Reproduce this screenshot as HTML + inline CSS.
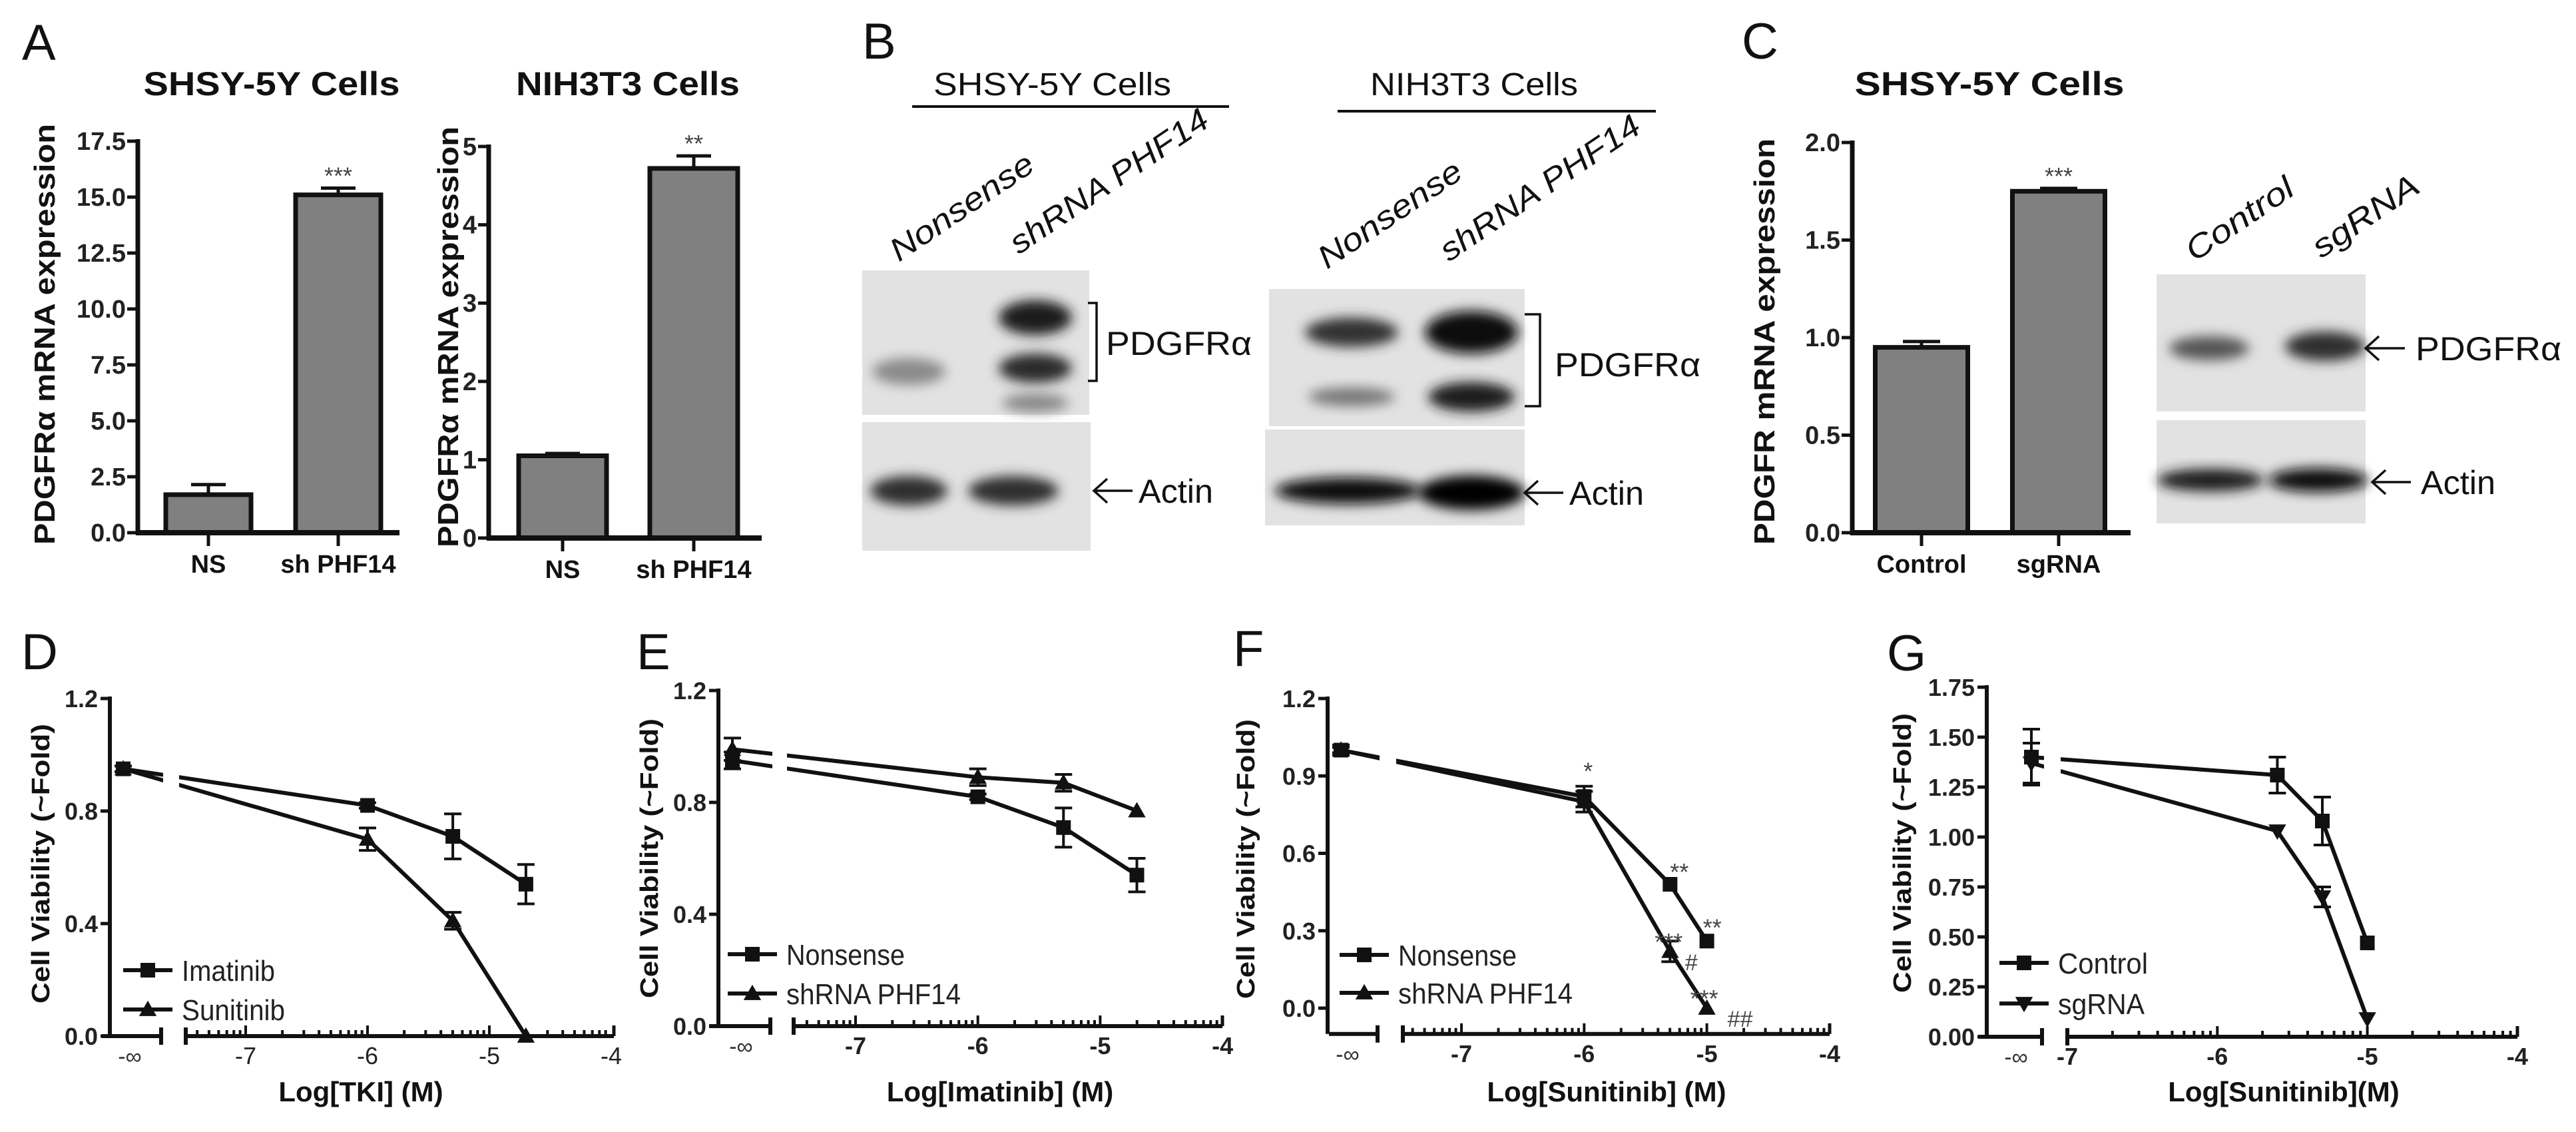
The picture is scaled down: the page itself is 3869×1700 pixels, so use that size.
<!DOCTYPE html>
<html><head><meta charset="utf-8"><style>
html,body{margin:0;padding:0;background:#fff;}
svg{display:block;font-family:"Liberation Sans",Arial,sans-serif;}
</style></head><body>
<svg id="fig" xmlns="http://www.w3.org/2000/svg" width="3869" height="1700" viewBox="0 0 3869 1700">
<defs>
<filter id="blur" x="-50%" y="-50%" width="200%" height="200%"><feGaussianBlur stdDeviation="9"/></filter>
</defs>
<rect x="0" y="0" width="3869" height="1700" fill="#fff"/>
</svg>
<script>
// ---------- DATA ----------
const a1Categories = ["NS", "sh PHF14"];
const a1Values = [1.7, 15.1];
const a1Errors = [0.45, 0.3];
const a1Stars = ["", "***"];
const a1Ticks = [0, 2.5, 5, 7.5, 10, 12.5, 15, 17.5];
const a1TickLabels = ["0.0", "2.5", "5.0", "7.5", "10.0", "12.5", "15.0", "17.5"];
const a2Categories = ["NS", "sh PHF14"];
const a2Values = [1.05, 4.72];
const a2Errors = [0.03, 0.16];
const a2Stars = ["", "**"];
const a2Ticks = [0, 1, 2, 3, 4, 5];
const a2TickLabels = ["0", "1", "2", "3", "4", "5"];
const cCategories = ["Control", "sgRNA"];
const cValues = [0.95, 1.75];
const cErrors = [0.03, 0.015];
const cStars = ["", "***"];
const cTicks = [0, 0.5, 1, 1.5, 2];
const cTickLabels = ["0.0", "0.5", "1.0", "1.5", "2.0"];

const dDoses = [null, -6, -5.3, -4.7];
const dImatinib = [0.95, 0.82, 0.71, 0.54];
const dImatinibErr = [0.01, 0.01, 0.08, 0.07];
const dSunitinib = [0.95, 0.70, 0.41, 0.0];
const dSunitinibErr = [0.01, 0.04, 0.03, 0.0];
const dTicks = [0, 0.4, 0.8, 1.2];
const dTickLabels = ["0.0", "0.4", "0.8", "1.2"];
const eDoses = [null, -6, -5.3, -4.7];
const eNonsense = [0.95, 0.82, 0.71, 0.54];
const eNonsenseErr = [0.03, 0.01, 0.07, 0.06];
const eShrna = [0.99, 0.89, 0.87, 0.77];
const eShrnaErr = [0.04, 0.03, 0.03, 0.0];
const eTicks = [0, 0.4, 0.8, 1.2];
const eTickLabels = ["0.0", "0.4", "0.8", "1.2"];
const fDoses = [null, -6, -5.3, -5];
const fNonsense = [1.0, 0.82, 0.48, 0.26];
const fNonsenseErr = [0.02, 0.04, 0.0, 0.0];
const fShrna = [1.0, 0.80, 0.22, 0.0];
const fShrnaErr = [0.01, 0.04, 0.04, 0.0];
const fTicks = [0, 0.3, 0.6, 0.9, 1.2];
const fTickLabels = ["0.0", "0.3", "0.6", "0.9", "1.2"];
const fAnnotLabels = ["*", "**", "**", "***", "#", "***", "##"];
const gDoses = [null, -5.6, -5.3, -5];
const gControl = [1.40, 1.31, 1.08, 0.47];
const gControlErr = [0.14, 0.09, 0.12, 0.0];
const gSgrna = [1.37, 1.03, 0.70, 0.09];
const gSgrnaErr = [0.10, 0.0, 0.05, 0.0];
const gTicks = [0, 0.25, 0.5, 0.75, 1.0, 1.25, 1.5, 1.75];
const gTickLabels = ["0.00", "0.25", "0.50", "0.75", "1.00", "1.25", "1.50", "1.75"];
const xDecades = [-7, -6, -5, -4];
const xDecadeLabels = ["-7", "-6", "-5", "-4"];

// ---------- HELPERS ----------
const NS = 'http://www.w3.org/2000/svg';
const svg = document.getElementById('fig');
function mk(tag, attrs, parent) {
  const e = document.createElementNS(NS, tag);
  for (const k in attrs) e.setAttribute(k, attrs[k]);
  (parent || svg).appendChild(e);
  return e;
}
function tx(str, attrs, parent) {
  const e = mk('text', attrs, parent);
  e.textContent = str;
  return e;
}
function grp(name) {
  const g = mk('g', {});
  
  
  return g;
}
const K = '#111';

const letterPos = [["A", 33, 90], ["B", 1295, 88], ["C", 2616, 88], ["D", 32, 1005], ["E", 956, 1005], ["F", 1852, 1000], ["G", 2834, 1007]];
letterPos.forEach(function (p) {
  const t = tx(p[0], {x: p[1], y: p[2], 'font-size': 76, fill: K});
  
  
});

function barChart(name, cfg, cats, vals, errs, stars, ticks, tickLabels) {
  const g = grp(name);
  const yOf = v => cfg.y0 - v / cfg.vmax * (cfg.y0 - cfg.y1);
  const title = tx(cfg.title, {x: cfg.titleX, y: 143, 'font-size': 50, 'font-weight': 'bold', 'text-anchor': 'middle', fill: K, textLength: cfg.titleW, lengthAdjust: 'spacingAndGlyphs'}, g);
  
  
  const yl = tx(cfg.ylabel, {x: 0, y: 0, 'font-size': 44, 'font-weight': 'bold', 'text-anchor': 'middle', fill: K, textLength: cfg.ylabelLen, lengthAdjust: 'spacingAndGlyphs', transform: 'translate(' + cfg.ylabelX + ',' + cfg.ylabelY + ') rotate(-90)'}, g);
  
  
  ticks.forEach(function (v, i) {
    const y = yOf(v);
    const tk = mk('line', {x1: cfg.axisX - 16, x2: cfg.axisX, y1: y, y2: y, stroke: K, 'stroke-width': 5}, g);
    
    
    const tl = tx(tickLabels[i], {x: cfg.axisX - 18, y: y + 13, 'font-size': 38, 'font-weight': 'bold', 'text-anchor': 'end', fill: '#222'}, g);
    
    
  });
  cats.forEach(function (c, i) {
    const cx = cfg.centers[i];
    const yv = yOf(vals[i]);
    const ye = yOf(vals[i] + errs[i]);
    const eb = mk('line', {x1: cx, x2: cx, y1: yv, y2: ye, stroke: K, 'stroke-width': 5}, g);
    
    
    const cap = mk('line', {x1: cx - cfg.cap, x2: cx + cfg.cap, y1: ye, y2: ye, stroke: K, 'stroke-width': 5}, g);
    
    
    const bar = mk('rect', {x: cx - cfg.w / 2, y: yv, width: cfg.w, height: cfg.y0 - yv, fill: '#808080', stroke: K, 'stroke-width': 7}, g);
    
    
    if (stars[i]) {
      const st = tx(stars[i], {x: cx, y: ye - 6, 'font-size': 36, 'text-anchor': 'middle', fill: '#444'}, g);
      
      
    }
    const ct = mk('line', {x1: cx, x2: cx, y1: cfg.y0, y2: cfg.y0 + 20, stroke: K, 'stroke-width': 5}, g);
    
    
    const cl = tx(c, {x: cx, y: cfg.y0 + 60, 'font-size': 38, 'font-weight': 'bold', 'text-anchor': 'middle', fill: K}, g);
    
    
  });
  const ya = mk('line', {x1: cfg.axisX, x2: cfg.axisX, y1: cfg.y1 - 3, y2: cfg.y0 + 3, stroke: K, 'stroke-width': 7}, g);
  
  
  const xa = mk('line', {x1: cfg.axisX - 3, x2: cfg.axisEnd, y1: cfg.y0, y2: cfg.y0, stroke: K, 'stroke-width': 8}, g);
  
  
}

barChart('bar-chart-a-shsy5y', {title: 'SHSY-5Y Cells', titleX: 408, titleW: 385, ylabel: 'PDGFRα mRNA expression', ylabelX: 82, ylabelY: 502, ylabelLen: 632, axisX: 207, y0: 800, y1: 212, vmax: 17.5, centers: [313, 508], w: 128, cap: 26, axisEnd: 600}, a1Categories, a1Values, a1Errors, a1Stars, a1Ticks, a1TickLabels);
barChart('bar-chart-a-nih3t3', {title: 'NIH3T3 Cells', titleX: 943, titleW: 336, ylabel: 'PDGFRα mRNA expression', ylabelX: 688, ylabelY: 506, ylabelLen: 632, axisX: 734, y0: 808, y1: 220, vmax: 5, centers: [845, 1042], w: 132, cap: 26, axisEnd: 1144}, a2Categories, a2Values, a2Errors, a2Stars, a2Ticks, a2TickLabels);
barChart('bar-chart-c', {title: 'SHSY-5Y Cells', titleX: 2988, titleW: 405, ylabel: 'PDGFR mRNA expression', ylabelX: 2665, ylabelY: 513, ylabelLen: 610, axisX: 2782, y0: 800, y1: 214, vmax: 2, centers: [2886, 3092], w: 139, cap: 28, axisEnd: 3200}, cCategories, cValues, cErrors, cStars, cTicks, cTickLabels);

function blot(name, x, y, w, h, bands) {
  const g = grp(name);
  const bg = mk('rect', {x: x, y: y, width: w, height: h, fill: '#e2e2e2'}, g);
  
  
  bands.forEach(function (b) {
    const e = mk('ellipse', {cx: b[0], cy: b[1], rx: b[2], ry: b[3], fill: b[4], filter: 'url(#blur)'}, g);
    
    
  });
}
blot('blot-b-shsy5y-pdgfr', 1295, 406, 341, 217, [[1365, 558, 55, 20, '#8a8a8a'], [1555, 477, 55, 26, '#1a1a1a'], [1555, 553, 55, 22, '#2a2a2a'], [1555, 605, 50, 14, '#888']]);
blot('blot-b-shsy5y-actin', 1295, 634, 343, 193, [[1365, 737, 58, 22, '#2e2e2e'], [1522, 737, 68, 22, '#2e2e2e']]);
blot('blot-b-nih3t3-pdgfr', 1906, 434, 384, 206, [[2030, 499, 70, 22, '#333'], [2030, 596, 65, 14, '#777'], [2210, 499, 70, 32, '#0e0e0e'], [2210, 596, 65, 22, '#1c1c1c']]);
blot('blot-b-nih3t3-actin', 1900, 645, 390, 144, [[2025, 737, 110, 20, '#0e0e0e'], [2210, 740, 80, 26, '#000']]);
blot('blot-c-pdgfr', 3239, 412, 314, 206, [[3318, 523, 60, 18, '#555'], [3492, 520, 60, 22, '#2e2e2e']]);
blot('blot-c-actin', 3239, 631, 314, 155, [[3320, 721, 80, 17, '#1e1e1e'], [3482, 721, 75, 18, '#111']]);

function plainText(name, str, attrs) {
  const t = tx(str, attrs);
  
  
  return t;
}
function hline(name, x1, x2, y, w) {
  const l = mk('line', {x1: x1, x2: x2, y1: y, y2: y, stroke: K, 'stroke-width': w});
  
  
}
function arrow(name, x1, x2, y) {
  const p = mk('path', {d: 'M' + x2 + ' ' + y + ' L' + x1 + ' ' + y + ' M' + (x1 + 20) + ' ' + (y - 18) + ' L' + x1 + ' ' + y + ' L' + (x1 + 20) + ' ' + (y + 18), stroke: K, 'stroke-width': 3.5, fill: 'none'});
  
  
}
function bracket(name, x1, x2, y1, y2) {
  const p = mk('path', {d: 'M' + x1 + ' ' + y1 + ' L' + x2 + ' ' + y1 + ' L' + x2 + ' ' + y2 + ' L' + x1 + ' ' + y2, stroke: K, 'stroke-width': 3.5, fill: 'none'});
  
  
}
function lane(name, str, x, y, len) {
  const t = tx(str, {x: 0, y: 0, 'font-size': 48, 'font-style': 'italic', fill: K, textLength: len, lengthAdjust: 'spacingAndGlyphs', transform: 'translate(' + x + ',' + y + ') rotate(-34)'});
  
  
}
plainText('blot-title-shsy5y', 'SHSY-5Y Cells', {x: 1402, y: 143, 'font-size': 48, fill: K, textLength: 357, lengthAdjust: 'spacingAndGlyphs'});
hline('blot-title-underline', 1370, 1846, 160, 4);
plainText('blot-title-nih3t3', 'NIH3T3 Cells', {x: 2058, y: 143, 'font-size': 48, fill: K, textLength: 312, lengthAdjust: 'spacingAndGlyphs'});
hline('blot-title-underline', 2009, 2487, 167, 4);
lane('lane-label-nonsense', 'Nonsense', 1350, 394, 250);
lane('lane-label-shrna', 'shRNA PHF14', 1530, 383, 349);
lane('lane-label-nonsense', 'Nonsense', 1993, 405, 250);
lane('lane-label-shrna', 'shRNA PHF14', 2176, 394, 352);
lane('lane-label-control', 'Control', 3296, 394, 185);
lane('lane-label-sgrna', 'sgRNA', 3486, 389, 183);
bracket('band-bracket', 1634, 1647, 455, 572);
plainText('band-label-pdgfra', 'PDGFRα', {x: 1661, y: 533, 'font-size': 50, fill: K, textLength: 219, lengthAdjust: 'spacingAndGlyphs'});
arrow('band-arrow', 1643, 1701, 737);
plainText('band-label-actin', 'Actin', {x: 1710, y: 755, 'font-size': 50, fill: K, textLength: 112, lengthAdjust: 'spacingAndGlyphs'});
bracket('band-bracket', 2290, 2313, 472, 610);
plainText('band-label-pdgfra', 'PDGFRα', {x: 2335, y: 565, 'font-size': 50, fill: K, textLength: 219, lengthAdjust: 'spacingAndGlyphs'});
arrow('band-arrow', 2290, 2348, 740);
plainText('band-label-actin', 'Actin', {x: 2357, y: 758, 'font-size': 50, fill: K, textLength: 112, lengthAdjust: 'spacingAndGlyphs'});
arrow('band-arrow', 3553, 3612, 523);
plainText('band-label-pdgfra', 'PDGFRα', {x: 3628, y: 541, 'font-size': 50, fill: K, textLength: 219, lengthAdjust: 'spacingAndGlyphs'});
arrow('band-arrow', 3563, 3621, 724);
plainText('band-label-actin', 'Actin', {x: 3636, y: 742, 'font-size': 50, fill: K, textLength: 112, lengthAdjust: 'spacingAndGlyphs'});

function marker(g, type, x, y, s) {
  let m;
  if (type === 'square') m = mk('rect', {x: x - s / 2, y: y - s / 2, width: s, height: s, fill: K}, g);
  else if (type === 'up') m = mk('polygon', {points: (x) + ',' + (y - s * 0.6) + ' ' + (x - s * 0.6) + ',' + (y + s * 0.45) + ' ' + (x + s * 0.6) + ',' + (y + s * 0.45), fill: K}, g);
  else m = mk('polygon', {points: (x) + ',' + (y + s * 0.6) + ' ' + (x - s * 0.6) + ',' + (y - s * 0.45) + ' ' + (x + s * 0.6) + ',' + (y - s * 0.45), fill: K}, g);
  return m;
}
function doseChart(name, cfg, doses, series, ticks, tickLabels) {
  const g = grp(name);
  const yOf = v => cfg.y0 - v / cfg.vTop * (cfg.y0 - cfg.yTop);
  const xOf = d => d === null ? cfg.infX : cfg.xm7 + (d + 7) * cfg.ppd;
  const axisY = yOf(cfg.vMin);
  const yl = tx('Cell Viability (~Fold)', {x: 0, y: 0, 'font-size': 38, 'font-weight': 'bold', 'text-anchor': 'middle', fill: K, textLength: 420, lengthAdjust: 'spacingAndGlyphs', transform: 'translate(' + cfg.ylabelX + ',' + cfg.ylabelY + ') rotate(-90)'}, g);
  
  
  const xl = tx(cfg.xlabel, {x: cfg.xlabelX, y: cfg.xlabelY, 'font-size': 42, 'font-weight': 'bold', 'text-anchor': 'middle', fill: K}, g);
  
  
  ticks.forEach(function (v, i) {
    const y = yOf(v);
    const tk = mk('line', {x1: cfg.axisX - 14, x2: cfg.axisX, y1: y, y2: y, stroke: K, 'stroke-width': 5}, g);
    
    
    const tl = tx(tickLabels[i], {x: cfg.axisX - 18, y: y + 13, 'font-size': 36, 'font-weight': 'bold', 'text-anchor': 'end', fill: '#222'}, g);
    
    
  });
  series.forEach(function (s) {
    const pts = doses.map((d, i) => xOf(d) + ',' + yOf(s.vals[i])).join(' ');
    const pl = mk('polyline', {points: pts, fill: 'none', stroke: K, 'stroke-width': 6, 'stroke-linejoin': 'round'}, g);
    
    
  });
  const mask = mk('rect', {x: cfg.seg1[1] + 3, y: cfg.yTop - 30, width: cfg.seg2[0] - cfg.seg1[1] - 13, height: axisY - cfg.yTop + 10, fill: '#fff'}, g);
  
  
  series.forEach(function (s) {
    doses.forEach(function (d, i) {
      const x = xOf(d), y = yOf(s.vals[i]);
      if (s.errs[i] > 0) {
        const y1 = yOf(s.vals[i] + s.errs[i]), y2 = yOf(s.vals[i] - s.errs[i]);
        const eb = mk('path', {d: 'M' + x + ' ' + y1 + ' L' + x + ' ' + y2 + ' M' + (x - 13) + ' ' + y1 + ' L' + (x + 13) + ' ' + y1 + ' M' + (x - 13) + ' ' + y2 + ' L' + (x + 13) + ' ' + y2, stroke: K, 'stroke-width': 4, fill: 'none'}, g);
        
        
      }
      const m = marker(g, s.marker, x, y, 22);
      
      
    });
  });
  const ya = mk('line', {x1: cfg.axisX, x2: cfg.axisX, y1: cfg.yTop - 3, y2: axisY, stroke: K, 'stroke-width': 6}, g);
  
  
  const s1 = mk('path', {d: 'M' + cfg.seg1[0] + ' ' + axisY + ' L' + cfg.seg1[1] + ' ' + axisY + ' M' + cfg.seg1[1] + ' ' + (axisY - 13) + ' L' + cfg.seg1[1] + ' ' + (axisY + 13), stroke: K, 'stroke-width': 6, fill: 'none'}, g);
  
  
  const s2 = mk('path', {d: 'M' + cfg.seg2[0] + ' ' + axisY + ' L' + cfg.seg2[1] + ' ' + axisY + ' M' + cfg.seg2[0] + ' ' + (axisY - 13) + ' L' + cfg.seg2[0] + ' ' + (axisY + 13), stroke: K, 'stroke-width': 6, fill: 'none'}, g);
  
  
  for (let dec = -8; dec < -4; dec++) {
    for (let k = 1; k <= 9; k++) {
      const lv = dec + Math.log10(k);
      const x = xOf(lv);
      if (x < cfg.seg2[0] + 4 || x > cfg.seg2[1] + 1) continue;
      const mt = mk('line', {x1: x, x2: x, y1: axisY, y2: axisY - (k === 1 ? 16 : 9), stroke: K, 'stroke-width': 4}, g);
      
      
    }
  }
  const lastT = mk('line', {x1: cfg.seg2[1], x2: cfg.seg2[1], y1: axisY, y2: axisY - 16, stroke: K, 'stroke-width': 5}, g);
  
  
  xDecades.forEach(function (d, i) {
    const t = tx(xDecadeLabels[i], {x: xOf(d), y: axisY + 42, 'font-size': 36, 'font-weight': cfg.boldX ? 'bold' : 'normal', 'text-anchor': 'middle', fill: '#222'}, g);
    
    
  });
  const inf = tx('-∞', {x: cfg.infLabelX, y: axisY + 42, 'font-size': 34, 'text-anchor': 'middle', fill: '#333'}, g);
  
  
  series.forEach(function (s, i) {
    const ly = cfg.legY[i];
    const ll = mk('line', {x1: cfg.legX, x2: cfg.legX + 74, y1: ly, y2: ly, stroke: K, 'stroke-width': 6}, g);
    
    
    const lm = marker(g, s.marker, cfg.legX + 37, ly, 22);
    
    
    const lt = tx(s.label, {x: cfg.legX + 88, y: ly + 16, 'font-size': 44, fill: '#222', textLength: s.labelW, lengthAdjust: 'spacingAndGlyphs'}, g);
    
    
  });
  return {g: g, xOf: xOf, yOf: yOf};
}

doseChart('line-chart-d', {y0: 1556, yTop: 1049, vTop: 1.2, vMin: 0, axisX: 165, xm7: 369, ppd: 183, infX: 185, infLabelX: 195, seg1: [153, 242], seg2: [279, 922], ylabelX: 74, ylabelY: 1297, xlabel: 'Log[TKI] (M)', xlabelX: 542, xlabelY: 1654, legX: 185, legY: [1457, 1516], boldX: false},
  dDoses, [{key: 'imatinib', label: 'Imatinib', labelW: 140, marker: 'square', vals: dImatinib, errs: dImatinibErr}, {key: 'sunitinib', label: 'Sunitinib', labelW: 155, marker: 'up', vals: dSunitinib, errs: dSunitinibErr}], dTicks, dTickLabels);

doseChart('line-chart-e', {y0: 1541, yTop: 1037, vTop: 1.2, vMin: 0, axisX: 1079, xm7: 1285, ppd: 183.7, infX: 1100, infLabelX: 1113, seg1: [1065, 1157], seg2: [1192, 1836], ylabelX: 988, ylabelY: 1289, xlabel: 'Log[Imatinib] (M)', xlabelX: 1502, xlabelY: 1654, legX: 1093, legY: [1433, 1492], boldX: true},
  eDoses, [{key: 'nonsense', label: 'Nonsense', labelW: 178, marker: 'square', vals: eNonsense, errs: eNonsenseErr}, {key: 'shrna-phf14', label: 'shRNA PHF14', labelW: 262, marker: 'up', vals: eShrna, errs: eShrnaErr}], eTicks, eTickLabels);

const fChart = doseChart('line-chart-f', {y0: 1514, yTop: 1049, vTop: 1.2, vMin: -0.1, axisX: 1994, xm7: 2195, ppd: 184.3, infX: 2014, infLabelX: 2024, seg1: [1996, 2069], seg2: [2107, 2748], ylabelX: 1884, ylabelY: 1290, xlabel: 'Log[Sunitinib] (M)', xlabelX: 2413, xlabelY: 1654, legX: 2012, legY: [1434, 1491], boldX: true},
  fDoses, [{key: 'nonsense', label: 'Nonsense', labelW: 178, marker: 'square', vals: fNonsense, errs: fNonsenseErr}, {key: 'shrna-phf14', label: 'shRNA PHF14', labelW: 262, marker: 'up', vals: fShrna, errs: fShrnaErr}], fTicks, fTickLabels);
const fAnnotAnchor = [[0, 1, 6, -40], [0, 2, 14, -20], [0, 3, 8, -22], [1, 2, -2, -16], [1, 2, 32, 14], [1, 3, -4, -16], [1, 3, 50, 14]];
const fSeries = [fNonsense, fShrna];
fAnnotLabels.forEach(function (lab, i) {
  const a = fAnnotAnchor[i];
  const x = fChart.xOf(fDoses[a[1]]) + a[2];
  const y = fChart.yOf(fSeries[a[0]][a[1]]) + a[3];
  const t = tx(lab, {x: x, y: y + 14, 'font-size': lab[0] === '#' ? 34 : 36, 'text-anchor': 'middle', fill: '#444'}, fChart.g);
  
  
});

doseChart('line-chart-g', {y0: 1557, yTop: 1032, vTop: 1.75, vMin: 0, axisX: 2984, xm7: 3105, ppd: 225.3, infX: 3051, infLabelX: 3028, seg1: [2971, 3067], seg2: [3105, 3781], ylabelX: 2870, ylabelY: 1281, xlabel: 'Log[Sunitinib](M)', xlabelX: 3430, xlabelY: 1654, legX: 3003, legY: [1446, 1507], boldX: true},
  gDoses, [{key: 'control', label: 'Control', labelW: 135, marker: 'square', vals: gControl, errs: gControlErr}, {key: 'sgrna', label: 'sgRNA', labelW: 130, marker: 'down', vals: gSgrna, errs: gSgrnaErr}], gTicks, gTickLabels);
</script>
</body></html>
